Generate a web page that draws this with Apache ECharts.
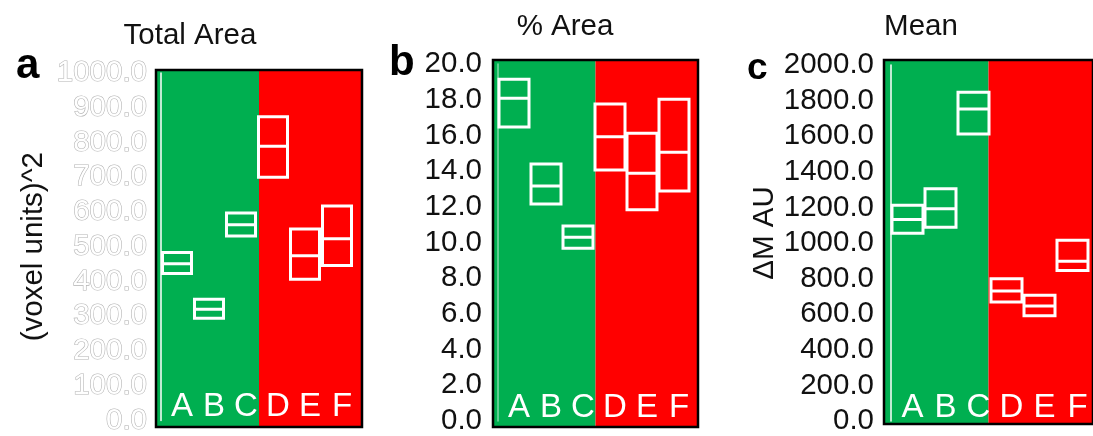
<!DOCTYPE html>
<html>
	<head>
		<meta charset="utf-8">
		<title>Total Area / % Area / Mean</title>
		<style>
			body { margin: 0; background: #fff; }
			#chart { width: 1093px; height: 436px; }
		</style>
	</head>
	<body>
		<div id="chart"></div>
		<script src="https://cdn.jsdelivr.net/npm/echarts@6/dist/echarts.min.js"></script>
		<script>
			// groups on the x axis
			var categories = ['A', 'B', 'C', 'D', 'E', 'F'];
			var halves = ['left', 'right'];

			// a: Total Area, box = low / mean / high
			var areaLow = [423, 294, 531, 700, 406, 446];
			var areaMean = [451, 320, 563, 789, 474, 523];
			var areaHigh = [483, 349, 597, 874, 551, 617];

			// b: % Area
			var pctLow = [16.47, 12.16, 9.68, 14.06, 11.84, 12.89];
			var pctMean = [18.08, 13.17, 10.29, 15.93, 13.88, 15.05];
			var pctHigh = [19.14, 14.40, 10.92, 17.76, 16.12, 18.02];

			// c: Mean
			var meanLow = [1055, 1088, 1613, 668, 591, 846];
			var meanMean = [1132, 1193, 1753, 730, 646, 898];
			var meanHigh = [1212, 1305, 1847, 799, 706, 1016];

			var axisMax = [1000, 20, 2000];

			var green = '#00af50';
			var red = '#ff0000';
			var font = 'Liberation Sans, Arial, sans-serif';
			var fs = 29.5;

			var panels = [{
				low: areaLow, mean: areaMean, high: areaHigh, max: axisMax[0],
				frame: [156, 70, 206, 357],
				box: [161, 73, 192, 350],
				boxWidth: 29,
				margin: 14,
				labelColor: '#fff', labelBorder: '#b4b4b4',
				lineColor: '#fff',
				name: '(voxel units)^2', nameGap: 112, nameShift: 0
			}, {
				low: pctLow, mean: pctMean, high: pctHigh, max: axisMax[1],
				frame: [493, 60, 205, 367],
				box: [498, 64, 192, 357],
				boxWidth: 30,
				margin: 16,
				labelColor: '#111', labelBorder: null,
				lineColor: 'rgba(255,255,255,0.5)',
				name: '', nameGap: 0, nameShift: 0
			}, {
				low: meanLow, mean: meanMean, high: meanHigh, max: axisMax[2],
				frame: [884, 60, 212, 364],
				box: [891, 65, 198, 357],
				boxWidth: 31,
				margin: 17,
				labelColor: '#111', labelBorder: null,
				lineColor: '#fff',
				name: '\u0394M AU', nameGap: 110, nameShift: 20
			}];

			var option = {
				animation: false,
				textStyle: { fontFamily: font },
				title: [
					{ text: 'Total Area', left: 185, top: 16, textAlign: 'center', textStyle: { fontSize: fs, fontWeight: 'normal', color: '#111' } },
					{ text: '% Area', left: 560, top: 7, textAlign: 'center', textStyle: { fontSize: fs, fontWeight: 'normal', color: '#111' } },
					{ text: 'Mean', left: 916, top: 7, textAlign: 'center', textStyle: { fontSize: fs, fontWeight: 'normal', color: '#111' } },
					{ text: 'a', left: 11, top: 40, textStyle: { fontSize: 42, fontWeight: 'bold', color: '#000' } },
					{ text: 'b', left: 384, top: 37, textStyle: { fontSize: 42, fontWeight: 'bold', color: '#000' } },
					{ text: 'c', left: 742, top: 45, textStyle: { fontSize: 37, fontWeight: 'bold', color: '#000' } }
				],
				grid: [],
				xAxis: [],
				yAxis: [],
				series: []
			};

			panels.forEach(function(p, i) {
				var f = 2 * i, b = 2 * i + 1;
				// frame with the green / red halves
				option.grid.push({
					left: p.frame[0], top: p.frame[1], width: p.frame[2], height: p.frame[3],
					show: true, borderColor: '#000', borderWidth: 2.5, z: 5
				});
				// inner grid that holds the boxes and the value axis
				option.grid.push({
					left: p.box[0], top: p.box[1], width: p.box[2], height: p.box[3]
				});
				option.xAxis.push({ gridIndex: f, type: 'category', data: halves, show: false });
				option.xAxis.push({
					gridIndex: b, type: 'category', data: categories, z: 4,
					axisLine: { show: false }, axisTick: { show: false },
					axisLabel: { inside: true, margin: -3, color: '#fff', fontSize: 33, padding: [0, 0, 0, 10] }
				});
				option.yAxis.push({ gridIndex: f, type: 'value', min: 0, max: 1, show: false });
				option.yAxis.push({
					gridIndex: b, type: 'value', min: 0, max: p.max, interval: p.max / 10, z: 4,
					name: p.name, nameLocation: 'middle', nameGap: p.nameGap,
					nameTextStyle: { fontSize: fs, color: '#111', padding: [0, 0, 0, p.nameShift] },
					axisLine: { show: true, lineStyle: { color: p.lineColor, width: 1.5 } },
					axisTick: { show: false },
					splitLine: { show: false },
					axisLabel: {
						fontSize: fs, margin: p.margin, color: p.labelColor,
						textBorderColor: p.labelBorder || 'transparent', textBorderWidth: p.labelBorder ? 1.2 : 0,
						formatter: function(v) { return v.toFixed(1); }
					}
				});
				option.series.push({
					type: 'bar', xAxisIndex: f, yAxisIndex: f, silent: true,
					barCategoryGap: 0,
					data: [
						{ value: 1, itemStyle: { color: green } },
						{ value: 1, itemStyle: { color: red } }
					]
				});
				option.series.push({
					type: 'boxplot', xAxisIndex: b, yAxisIndex: b, silent: true,
					boxWidth: [p.boxWidth, p.boxWidth],
					itemStyle: { color: 'rgba(0,0,0,0)', borderColor: '#fff', borderWidth: 3 },
					emphasis: { disabled: true },
					data: categories.map(function(c, k) {
						return [p.low[k], p.low[k], p.mean[k], p.high[k], p.high[k]];
					})
				});
			});

			var chart = echarts.init(document.getElementById('chart'));
			chart.setOption(option);
		</script>
	</body>
</html>
